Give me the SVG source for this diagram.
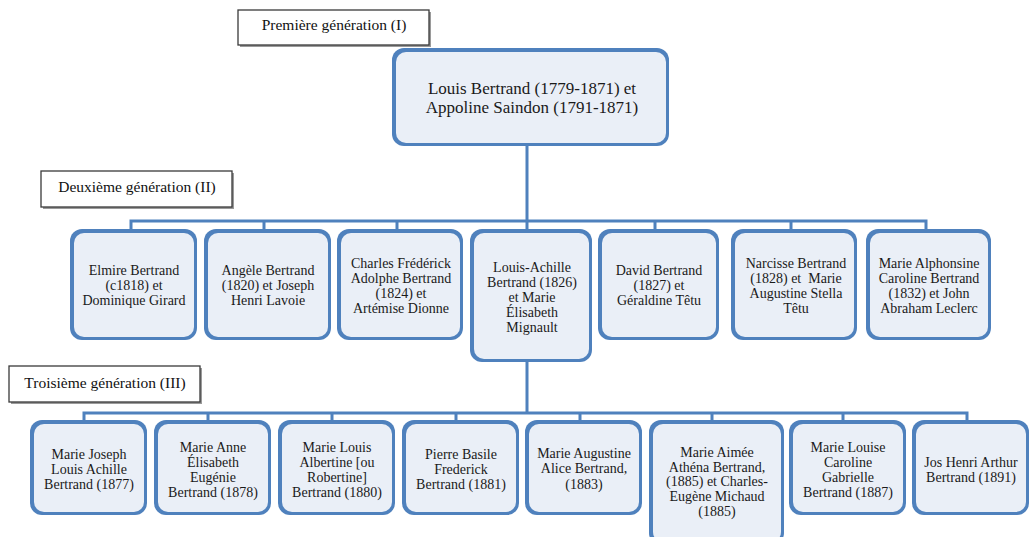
<svg xmlns="http://www.w3.org/2000/svg" width="1029" height="537" viewBox="0 0 1029 537">
<defs>
<style>
.lbl rect.sh{fill:#9a9a9a}
.lbl rect.bx{fill:#fff;stroke:#3a3a3a;stroke-width:1.3}
.lbl text{font-family:"Liberation Serif","Times New Roman",serif;font-size:15.5px;fill:#111;text-anchor:middle}
.node rect.o{fill:#4f81bd}
.node rect.i{fill:#eaeff7}
.node text{font-family:"Liberation Serif","Times New Roman",serif;font-size:14px;fill:#1a1a1a;text-anchor:middle}
.top text{font-size:17px}
.conn path{fill:none;stroke:#4f81bd;stroke-width:3;stroke-linecap:butt}
</style>
</defs>
<rect width="1029" height="537" fill="#fff"/>

<g id="label-gen1" class="lbl">
<rect class="sh" x="240" y="12" width="191" height="35"/>
<rect class="bx" x="238" y="10" width="191" height="35"/>
<text x="334" y="30">Première génération (I)</text>
</g>
<g id="label-gen2" class="lbl">
<rect class="sh" x="43" y="173" width="191" height="36"/>
<rect class="bx" x="41" y="171" width="191" height="36"/>
<text x="137" y="192">Deuxième génération (II)</text>
</g>
<g id="label-gen3" class="lbl">
<rect class="sh" x="11" y="368" width="191" height="36"/>
<rect class="bx" x="9" y="366" width="191" height="36"/>
<text x="105" y="388">Troisième génération (III)</text>
</g>

<g id="connectors" class="conn">
<path d="M527 146V221M131 229V221H926V229M264 221V229M397 221V229M527 221V229M655 221V229M791 221V229"/>
<path d="M527 362V413M84 420V413H967V420M208 413V420M332 413V420M456 413V420M580 413V420M712 413V420M843 413V420"/>
</g>

<g id="n-louis" class="node top">
<rect class="o" x="392" y="48" width="277" height="98" rx="12"/>
<rect class="i" x="396" y="52" width="270" height="91" rx="10"/>
<text x="532" y="94">Louis Bertrand (1779-1871) et</text>
<text x="532" y="113">Appoline Saindon (1791-1871)</text>
</g>

<g id="n-elmire" class="node">
<rect class="o" x="70" y="229" width="127" height="111" rx="12"/>
<rect class="i" x="74" y="233" width="120" height="104" rx="10"/>
<text x="134" y="275">Elmire Bertrand</text>
<text x="134" y="290">(c1818) et</text>
<text x="134" y="305">Dominique Girard</text>
</g>
<g id="n-angele" class="node">
<rect class="o" x="204" y="229" width="127" height="111" rx="12"/>
<rect class="i" x="208" y="233" width="120" height="104" rx="10"/>
<text x="268" y="275">Angèle Bertrand</text>
<text x="268" y="290">(1820) et Joseph</text>
<text x="268" y="305">Henri Lavoie</text>
</g>
<g id="n-charles" class="node">
<rect class="o" x="337" y="229" width="126" height="111" rx="12"/>
<rect class="i" x="341" y="233" width="119" height="104" rx="10"/>
<text x="401" y="268">Charles Frédérick</text>
<text x="401" y="283">Adolphe Bertrand</text>
<text x="401" y="298">(1824) et</text>
<text x="401" y="313">Artémise Dionne</text>
</g>
<g id="n-louisachille" class="node">
<rect class="o" x="470" y="229" width="122" height="133" rx="12"/>
<rect class="i" x="474" y="233" width="115" height="126" rx="10"/>
<text x="532" y="272">Louis-Achille</text>
<text x="532" y="287">Bertrand (1826)</text>
<text x="532" y="302">et Marie</text>
<text x="532" y="317">Élisabeth</text>
<text x="532" y="332">Mignault</text>
</g>
<g id="n-david" class="node">
<rect class="o" x="598" y="229" width="121" height="111" rx="12"/>
<rect class="i" x="602" y="233" width="114" height="104" rx="10"/>
<text x="659" y="275">David Bertrand</text>
<text x="659" y="290">(1827) et</text>
<text x="659" y="305">Géraldine Têtu</text>
</g>
<g id="n-narcisse" class="node">
<rect class="o" x="731" y="229" width="126" height="111" rx="12"/>
<rect class="i" x="735" y="233" width="119" height="104" rx="10"/>
<text x="796" y="268">Narcisse Bertrand</text>
<text x="796" y="283">(1828) et&#160; Marie</text>
<text x="796" y="298">Augustine Stella</text>
<text x="796" y="313">Têtu</text>
</g>
<g id="n-alphonsine" class="node">
<rect class="o" x="866" y="229" width="125" height="111" rx="12"/>
<rect class="i" x="870" y="233" width="118" height="104" rx="10"/>
<text x="929" y="268">Marie Alphonsine</text>
<text x="929" y="283">Caroline Bertrand</text>
<text x="929" y="298">(1832) et John</text>
<text x="929" y="313">Abraham Leclerc</text>
</g>

<g id="n-mariejoseph" class="node">
<rect class="o" x="30" y="420" width="117" height="95" rx="12"/>
<rect class="i" x="34" y="424" width="110" height="88" rx="10"/>
<text x="89" y="459">Marie Joseph</text>
<text x="89" y="474">Louis Achille</text>
<text x="89" y="489">Bertrand (1877)</text>
</g>
<g id="n-marieanne" class="node">
<rect class="o" x="154" y="420" width="117" height="95" rx="12"/>
<rect class="i" x="158" y="424" width="110" height="88" rx="10"/>
<text x="213" y="452">Marie Anne</text>
<text x="213" y="467">Élisabeth</text>
<text x="213" y="482">Eugénie</text>
<text x="213" y="497">Bertrand (1878)</text>
</g>
<g id="n-marielouis" class="node">
<rect class="o" x="278" y="420" width="117" height="95" rx="12"/>
<rect class="i" x="282" y="424" width="110" height="88" rx="10"/>
<text x="337" y="452">Marie Louis</text>
<text x="337" y="467">Albertine [ou</text>
<text x="337" y="482">Robertine]</text>
<text x="337" y="497">Bertrand (1880)</text>
</g>
<g id="n-pierre" class="node">
<rect class="o" x="402" y="420" width="117" height="95" rx="12"/>
<rect class="i" x="406" y="424" width="110" height="88" rx="10"/>
<text x="461" y="459">Pierre Basile</text>
<text x="461" y="474">Frederick</text>
<text x="461" y="489">Bertrand (1881)</text>
</g>
<g id="n-marieaugustine" class="node">
<rect class="o" x="525" y="420" width="117" height="95" rx="12"/>
<rect class="i" x="529" y="424" width="110" height="88" rx="10"/>
<text x="584" y="458">Marie Augustine</text>
<text x="584" y="473">Alice Bertrand,</text>
<text x="584" y="489">(1883)</text>
</g>
<g id="n-marieaimee" class="node">
<rect class="o" x="649" y="420" width="135" height="125" rx="12"/>
<rect class="i" x="653" y="424" width="128" height="118" rx="10"/>
<text x="717" y="457">Marie Aimée</text>
<text x="717" y="472">Athéna Bertrand,</text>
<text x="717" y="486">(1885) et Charles-</text>
<text x="717" y="501">Eugène Michaud</text>
<text x="717" y="516">(1885)</text>
</g>
<g id="n-marielouise" class="node">
<rect class="o" x="789" y="420" width="117" height="95" rx="12"/>
<rect class="i" x="793" y="424" width="110" height="88" rx="10"/>
<text x="848" y="452">Marie Louise</text>
<text x="848" y="467">Caroline</text>
<text x="848" y="482">Gabrielle</text>
<text x="848" y="497">Bertrand (1887)</text>
</g>
<g id="n-jos" class="node">
<rect class="o" x="912" y="420" width="117" height="95" rx="12"/>
<rect class="i" x="916" y="424" width="110" height="88" rx="10"/>
<text x="971" y="467">Jos Henri Arthur</text>
<text x="971" y="482">Bertrand (1891)</text>
</g>
</svg>
